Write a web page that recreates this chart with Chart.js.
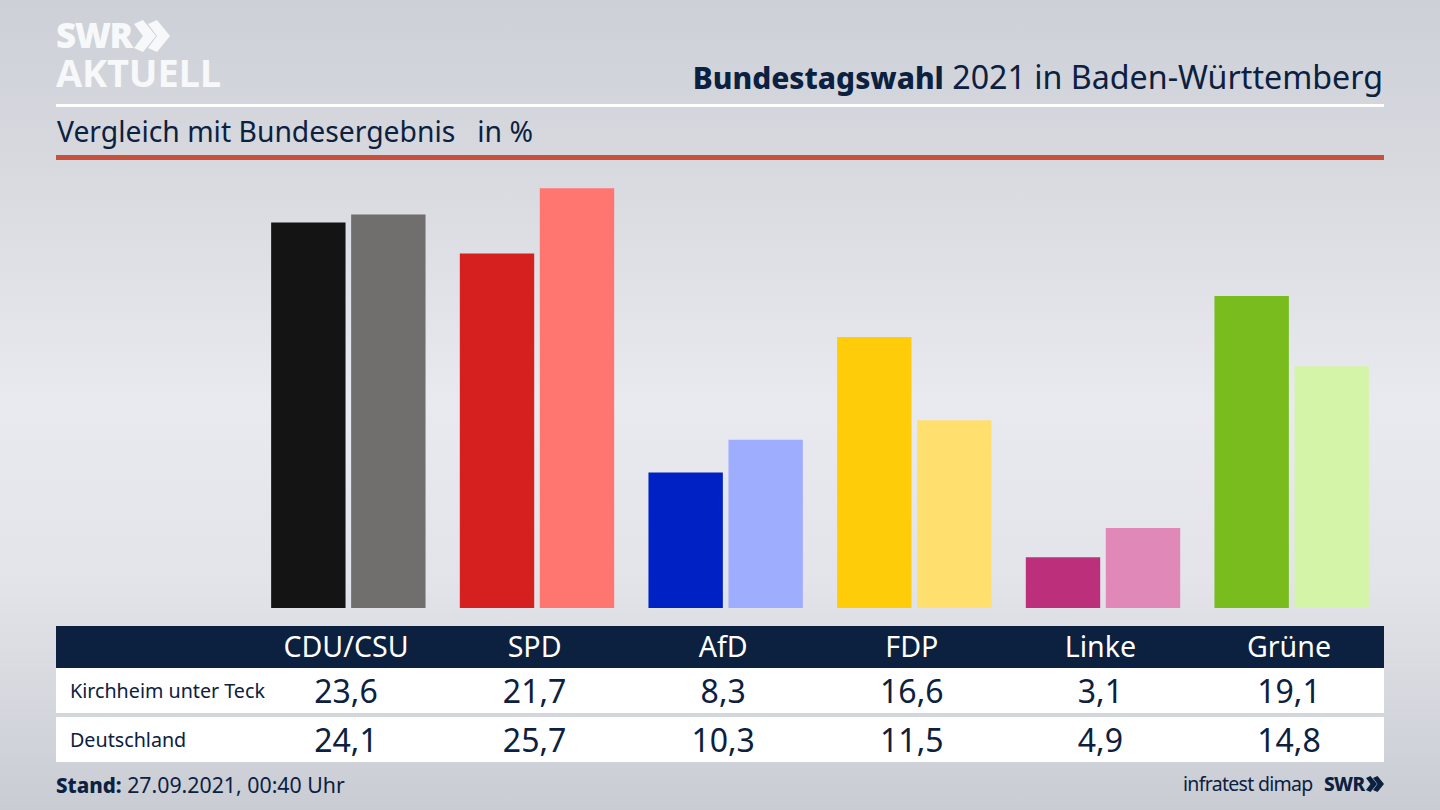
<!DOCTYPE html>
<html lang="de">
<head>
<meta charset="utf-8">
<title>Bundestagswahl 2021 in Baden-Württemberg</title>
<script src="https://cdn.jsdelivr.net/npm/chart.js@4"></script>
<style>
  html, body { margin: 0; padding: 0; }
  body {
    position: relative; width: 1440px; height: 810px; overflow: hidden;
    font-family: "Noto Sans", sans-serif; color: #0c2040;
    background: linear-gradient(180deg, #cdd0d7 0%, #d6d8de 18%, #e9eaef 50%, #e2e4e9 72%, #c9ccd3 100%);
  }
  .abs { position: absolute; white-space: nowrap; }
  #logo1, #logo2 { left: 56px; color: #f7f8f9; font-weight: 800; font-family: "Open Sans", sans-serif; }
  #logo1 { top: 12px; font-size: 35px; line-height: 46px; letter-spacing: -1.5px; }
  #logo2 { top: 48px; font-size: 38px; line-height: 48px; letter-spacing: -0.2px; font-weight: 700; }
  #title { right: 57px; top: 55px; font-size: 32.2px; line-height: 44px; }
  #title b { font-weight: 800; font-size: 29.9px; }
  #subtitle { left: 57px; top: 111px; font-size: 28.3px; line-height: 40px; white-space: pre; }
  #rule-white { left: 56px; top: 104px; width: 1328px; height: 3px; background: #fff; }
  #rule-red { left: 56px; top: 155px; width: 1328px; height: 5px; background: #c8503c; }
  #chart-box { left: 254px; top: 170px; width: 1132px; height: 438px; }
  #head-bar { left: 56px; top: 626px; width: 1328px; height: 42px; background: #0c2040; }
  .row-bar { left: 56px; width: 1328px; height: 45px; background: #fff; }
  .cell { transform: translateX(-50%); text-align: center; }
  .head-cell { top: 625px; line-height: 42px; font-size: 28.6px; color: #fff; }
  .val-cell { font-size: 32px; line-height: 45px; }
  .row-label { left: 70px; font-size: 19.7px; line-height: 45px; }
  #stand { left: 56px; top: 768px; font-size: 21.3px; line-height: 34px; }
  #stand b { font-weight: 800; font-size: 20.5px; }
  #source { left: 1183px; top: 768px; font-size: 19.5px; line-height: 32px; letter-spacing: -0.7px; }
  #swr-small { left: 1324px; top: 768px; font-size: 19px; line-height: 32px; font-weight: 800; letter-spacing: -0.6px; }
</style>
</head>
<body>
<div class="abs" id="logo1">SWR</div>
<svg class="abs" style="left:134px;top:20px" width="36" height="32" viewBox="0 0 36 32">
  <path d="M0 4 L9 0 L22 16 L9 32 L0 28 L9 16 Z M14 4 L23 0 L36 16 L23 32 L14 28 L23 16 Z" fill="#f7f8f9"/>
</svg>
<div class="abs" id="logo2">AKTUELL</div>
<div class="abs" id="title"><b>Bundestagswahl</b> 2021 in Baden-Württemberg</div>
<div class="abs" id="rule-white"></div>
<div class="abs" id="subtitle">Vergleich mit Bundesergebnis   in %</div>
<div class="abs" id="rule-red"></div>
<div class="abs" id="chart-box"><canvas id="chart"></canvas></div>
<div class="abs" id="head-bar"></div>
<div class="abs row-bar" style="top:668px"></div>
<div class="abs row-bar" style="top:717px"></div>
<div class="abs row-label" style="top:668px" id="label-local"></div>
<div class="abs row-label" style="top:717px" id="label-national"></div>
<div class="abs" id="stand"><b>Stand:</b> 27.09.2021, 00:40 Uhr</div>
<div class="abs" id="source">infratest dimap</div>
<div class="abs" id="swr-small">SWR</div>
<svg class="abs" style="left:1366px;top:776px" width="18" height="16" viewBox="0 0 36 32">
  <path d="M0 4 L9 0 L22 16 L9 32 L0 28 L9 16 Z M14 4 L23 0 L36 16 L23 32 L14 28 L23 16 Z" fill="#0c2040"/>
</svg>
<script>
const parties = ["CDU/CSU", "SPD", "AfD", "FDP", "Linke", "Grüne"];
const localName = "Kirchheim unter Teck";
const nationalName = "Deutschland";
const localValues = [23.6, 21.7, 8.3, 16.6, 3.1, 19.1];
const nationalValues = [24.1, 25.7, 10.3, 11.5, 4.9, 14.8];
const localColors = ["#141414", "#d61f1f", "#0022c4", "#ffcc0a", "#bc2f7a", "#78bc1e"];
const nationalColors = ["#706f6d", "#ff7670", "#9fadff", "#ffe06e", "#e088b8", "#d4f5a8"];

const columnStart = 346;
const columnStep = 188.6;

function formatValue(value) {
  return value.toFixed(1).replace(".", ",");
}

function addCell(className, text, left, top) {
  const cell = document.createElement("div");
  cell.className = "abs cell " + className;
  cell.textContent = text;
  cell.style.left = left + "px";
  if (top !== undefined) cell.style.top = top + "px";
  document.body.appendChild(cell);
}

function buildTable() {
  document.getElementById("label-local").textContent = localName;
  document.getElementById("label-national").textContent = nationalName;
  parties.forEach((party, i) => {
    const left = columnStart + columnStep * i;
    addCell("head-cell", party, left);
    addCell("val-cell", formatValue(localValues[i]), left, 668);
    addCell("val-cell", formatValue(nationalValues[i]), left, 717);
  });
}

function buildChart() {
  const ctx = document.getElementById("chart").getContext("2d");
  new Chart(ctx, {
    type: "bar",
    data: {
      labels: parties,
      datasets: [
        { label: localName, data: localValues, backgroundColor: localColors },
        { label: nationalName, data: nationalValues, backgroundColor: nationalColors },
      ],
    },
    options: {
      responsive: true,
      maintainAspectRatio: false,
      animation: false,
      layout: { padding: 0 },
      datasets: { bar: { categoryPercentage: 0.848, barPercentage: 0.93, borderWidth: 0 } },
      plugins: { legend: { display: false }, tooltip: { enabled: false } },
      scales: {
        x: { display: false },
        y: { display: false, min: 0, max: 26.82 },
      },
    },
  });
}

buildTable();
buildChart();
</script>
</body>
</html>
